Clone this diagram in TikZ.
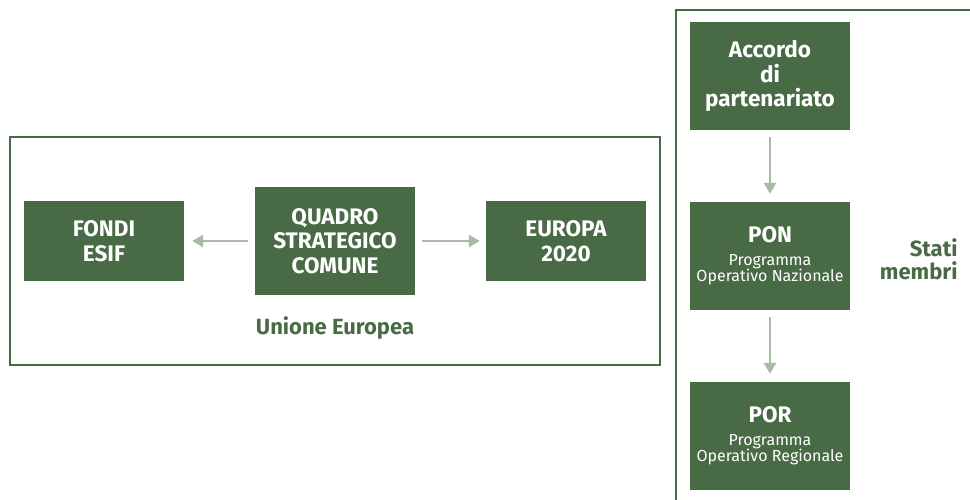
\documentclass[tikz,border=0pt]{standalone}
\usepackage{fontspec}
\setmainfont{Fira Sans}
\usetikzlibrary{arrows.meta}
\definecolor{boxgreen}{HTML}{486B46}
\definecolor{arrowgray}{HTML}{A9BBA7}
\newcommand{\subtxt}{\mdseries\fontsize{16}{17}\selectfont}
\begin{document}
\begin{tikzpicture}[x=1pt,y=-1pt,
  box/.style={fill=boxgreen,text=white,align=center,font=\bfseries\fontsize{22.5}{24.5}\selectfont,inner sep=0pt},
  conn/.style={draw=arrowgray,line width=2.6pt,-{Triangle[length=11pt,width=12pt]}},
  frame/.style={draw=boxgreen,line width=2pt},
  lbl/.style={text=boxgreen,font=\bfseries\fontsize{22}{23}\selectfont}]
\useasboundingbox (0,0) rectangle (970,500);
\clip (0,0) rectangle (970,500);
% frames
\draw[frame] (10,137) rectangle (660,365);
\draw[frame] (676,502) -- (676,10) -- (972,10);
% EU boxes
\node[box,minimum width=160pt,minimum height=80pt] (fondi) at (104,241) {FONDI\\ESIF};
\node[box,minimum width=160pt,minimum height=108pt] (qsc) at (335,241) {QUADRO\\STRATEGICO\\COMUNE};
\node[box,minimum width=160pt,minimum height=80pt] (eu) at (566,241) {EUROPA\\2020};
\node[lbl] (ue) at (335,328) {Unione Europea};
\draw[conn] ([xshift=-7pt]qsc.west) -- ([xshift=8pt]fondi.east);
\draw[conn] ([xshift=7pt]qsc.east) -- ([xshift=-6pt]eu.west);
% Member states boxes
\node[box,minimum width=160pt,minimum height=108pt] (acc) at (770,76) {Accordo\\di\\partenariato};
\node[box,minimum width=160pt,minimum height=108pt] (pon) at (770,256) {PON\\[-2pt]{\subtxt Programma}\\[-8pt]{\subtxt Operativo Nazionale}};
\node[box,minimum width=160pt,minimum height=108pt] (por) at (770,436) {POR\\[-2pt]{\subtxt Programma}\\[-8pt]{\subtxt Operativo Regionale}};
\draw[conn] ([yshift=-7pt]acc.south) -- ([yshift=8pt]pon.north);
\draw[conn] ([yshift=-7pt]pon.south) -- ([yshift=8pt]por.north);
\node[lbl,align=right,anchor=east] (sm) at (961,259) {Stati\\membri};
\end{tikzpicture}
\end{document}
